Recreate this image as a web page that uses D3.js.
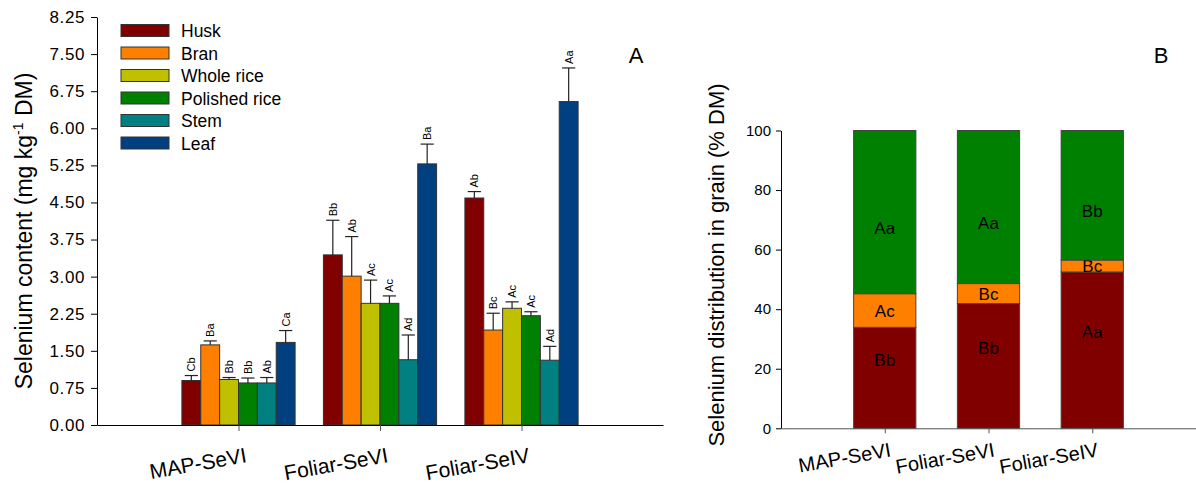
<!DOCTYPE html>
<html>
<head>
<meta charset="utf-8">
<script src="https://cdn.jsdelivr.net/npm/d3@7"></script>
<style>
  html, body { margin: 0; padding: 0; background: #fff; }
  svg { display: block; font-family: Arial, "Liberation Sans", sans-serif; }
</style>
</head>
<body>
<svg id="chart" width="1196" height="488"></svg>
<script>
// ---- Panel A: selenium content per plant part ----
const categories = ["MAP-SeVI", "Foliar-SeVI", "Foliar-SeIV"];
const parts = ["Husk", "Bran", "Whole rice", "Polished rice", "Stem", "Leaf"];
const partColors = ["#800000", "#ff8000", "#c0c000", "#008000", "#008080", "#004080"];

const husk = [0.90, 3.44, 4.59];
const huskErr = [0.10, 0.70, 0.13];
const huskSig = ["Cb", "Bb", "Ab"];

const bran = [1.62, 3.01, 1.92];
const branErr = [0.08, 0.80, 0.34];
const branSig = ["Ba", "Ab", "Bc"];

const wholeRice = [0.92, 2.46, 2.36];
const wholeRiceErr = [0.04, 0.47, 0.13];
const wholeRiceSig = ["Bb", "Ac", "Ac"];

const polishedRice = [0.85, 2.46, 2.21];
const polishedRiceErr = [0.10, 0.15, 0.08];
const polishedRiceSig = ["Bb", "Ac", "Ac"];

const stem = [0.85, 1.32, 1.31];
const stemErr = [0.11, 0.50, 0.28];
const stemSig = ["Ab", "Ad", "Ad"];

const leaf = [1.67, 5.28, 6.54];
const leafErr = [0.24, 0.40, 0.68];
const leafSig = ["Ca", "Ba", "Aa"];

const contentTicks = ["0.00", "0.75", "1.50", "2.25", "3.00", "3.75", "4.50", "5.25", "6.00", "6.75", "7.50", "8.25"];

// ---- Panel B: share of grain selenium ----
const grainParts = ["Husk", "Bran", "Polished rice"];
const grainColors = ["#800000", "#ff8000", "#008000"];
const huskPct = [33.9, 41.9, 52.5];
const huskPctSig = ["Bb", "Bb", "Aa"];
const branPct = [11.3, 6.7, 4.0];
const branPctSig = ["Ac", "Bc", "Bc"];
const polishedPct = [54.8, 51.4, 43.5];
const polishedPctSig = ["Aa", "Aa", "Bb"];
const pctTicks = [0, 20, 40, 60, 80, 100];

const seriesA = [
  { v: husk, e: huskErr, s: huskSig },
  { v: bran, e: branErr, s: branSig },
  { v: wholeRice, e: wholeRiceErr, s: wholeRiceSig },
  { v: polishedRice, e: polishedRiceErr, s: polishedRiceSig },
  { v: stem, e: stemErr, s: stemSig },
  { v: leaf, e: leafErr, s: leafSig }
];
const seriesB = [
  { v: huskPct, s: huskPctSig },
  { v: branPct, s: branPctSig },
  { v: polishedPct, s: polishedPctSig }
];

const svg = d3.select("#chart");
const FONT = 'Arial, "Liberation Sans", sans-serif';

// ================= Panel A =================
const xA = d3.scaleLinear().domain([0, 4]).range([97, 663]);
const yA = d3.scaleLinear().domain([0, 8.25]).range([425, 17]);
const groupW = 0.8;
const barW = groupW / parts.length;

const gA = svg.append("g");

// bars with error bars and significance letters
seriesA.forEach((ser, si) => {
  const g = gA.append("g");
  categories.forEach((c, ci) => {
    const x0 = ci + 1 - groupW / 2 + si * barW;
    const xl = xA(x0), xr = xA(x0 + barW);
    const xc = (xl + xr) / 2;
    g.append("rect")
      .attr("x", xl).attr("width", xr - xl)
      .attr("y", yA(ser.v[ci])).attr("height", yA(0) - yA(ser.v[ci]))
      .attr("fill", partColors[si])
      .attr("stroke", "#333").attr("stroke-width", 1);
    const top = yA(ser.v[ci] + ser.e[ci]);
    const halfCap = (xr - xl) * 0.35;
    g.append("line")
      .attr("x1", xc).attr("x2", xc)
      .attr("y1", yA(ser.v[ci])).attr("y2", top)
      .attr("stroke", "#222").attr("stroke-width", 1.2);
    g.append("line")
      .attr("x1", xc - halfCap).attr("x2", xc + halfCap)
      .attr("y1", top).attr("y2", top)
      .attr("stroke", "#222").attr("stroke-width", 1.2);
    g.append("text")
      .attr("transform", `translate(${xc + 4},${top - 4}) rotate(-90)`)
      .attr("font-size", 11).attr("fill", "#000")
      .text(ser.s[ci]);
  });
});

// y axis
const axisAY = d3.axisLeft(yA)
  .tickValues(contentTicks.map(Number))
  .tickFormat((d, i) => contentTicks[i])
  .tickSize(6).tickSizeOuter(0);
const gAy = gA.append("g").attr("transform", "translate(97,0)").call(axisAY);
gAy.select(".domain").attr("stroke", "#000");
gAy.selectAll(".tick line").attr("stroke", "#000");
gAy.selectAll(".tick text").attr("font-size", 17).attr("font-family", FONT).attr("fill", "#000")
  .attr("x", -12).attr("letter-spacing", 0.6);

// x axis
const axisAX = d3.axisBottom(xA).tickValues([1, 2, 3]).tickFormat("").tickSize(6).tickSizeOuter(0);
const gAx = gA.append("g").attr("transform", `translate(0,${yA(0)})`).call(axisAX);
gAx.select(".domain").attr("stroke", "#000");
gAx.selectAll(".tick line").attr("stroke", "#555");
categories.forEach((c, ci) => {
  gA.append("text")
    .attr("transform", `translate(${xA(ci + 1) + 9},${yA(0) + 37}) rotate(-10)`)
    .attr("text-anchor", "end").attr("font-size", 21).attr("fill", "#000")
    .text(c);
});

// y title with superscript
const tA = gA.append("text")
  .attr("transform", `translate(32,${(yA(0) + yA(8.25)) / 2 + 10}) rotate(-90)`)
  .attr("text-anchor", "middle").attr("font-size", 23).attr("fill", "#000");
tA.append("tspan").text("Selenium content (mg kg");
tA.append("tspan").attr("dy", -9).attr("font-size", 14).text("-1");
tA.append("tspan").attr("dy", 9).text(" DM)");

// panel letter
gA.append("text").attr("x", 636).attr("y", 63).attr("text-anchor", "middle")
  .attr("font-size", 22).text("A");

// legend
const leg = gA.append("g");
parts.forEach((p, i) => {
  const cy = 30.5 + i * 22.5;
  leg.append("rect").attr("x", 121).attr("y", cy - 6).attr("width", 48).attr("height", 12)
    .attr("fill", partColors[i]).attr("stroke", "#333").attr("stroke-width", 1);
  leg.append("text").attr("x", 181).attr("y", cy + 6.5).attr("font-size", 17.5).attr("fill", "#000").text(p);
});

// ================= Panel B =================
const xB = d3.scaleLinear().domain([0, 4]).range([781, 1196]);
const yB = d3.scaleLinear().domain([0, 100]).range([428.3, 130.5]);
const barWB = 0.6;
const gB = svg.append("g");

const stack = d3.stack().keys([0, 1, 2]).value((d, k) => seriesB[k].v[d])(categories.map((c, i) => i));
const labelShift = [-13, 5, 21];
stack.forEach((layer, k) => {
  layer.forEach((seg, ci) => {
    const xl = xB(ci + 1 - barWB / 2), xr = xB(ci + 1 + barWB / 2);
    gB.append("rect")
      .attr("x", xl).attr("width", xr - xl)
      .attr("y", yB(seg[1])).attr("height", yB(seg[0]) - yB(seg[1]))
      .attr("fill", grainColors[k]).attr("stroke", "#444").attr("stroke-width", 1);
    gB.append("text")
      .attr("x", (xl + xr) / 2)
      .attr("y", (yB(seg[0]) + yB(seg[1])) / 2 + labelShift[k] + 1)
      .attr("text-anchor", "middle").attr("font-size", 17).attr("fill", "#000")
      .text(seriesB[k].s[ci]);
  });
});

const axisBY = d3.axisLeft(yB).tickValues(pctTicks).tickFormat(d3.format("d")).tickSize(5).tickSizeOuter(0);
const gBy = gB.append("g").attr("transform", "translate(781,0)").call(axisBY);
gBy.select(".domain").attr("stroke", "#000");
gBy.selectAll(".tick line").attr("stroke", "#000");
gBy.selectAll(".tick text").attr("font-size", 15).attr("font-family", FONT).attr("fill", "#000").attr("x", -10);

const axisBX = d3.axisBottom(xB).tickValues([1, 2, 3]).tickFormat("").tickSize(5).tickSizeOuter(0);
const gBx = gB.append("g").attr("transform", `translate(0,${yB(0)})`).call(axisBX);
gBx.select(".domain").attr("stroke", "#555");
gBx.selectAll(".tick line").attr("stroke", "#555");
categories.forEach((c, ci) => {
  gB.append("text")
    .attr("transform", `translate(${xB(ci + 1) + 7},${yB(0) + 28}) rotate(-10)`)
    .attr("text-anchor", "end").attr("font-size", 20).attr("fill", "#000")
    .text(c);
});

gB.append("text")
  .attr("transform", `translate(724,265) rotate(-90)`)
  .attr("text-anchor", "middle").attr("font-size", 22).attr("fill", "#000")
  .text("Selenium distribution in grain (% DM)");

gB.append("text").attr("x", 1161).attr("y", 63).attr("text-anchor", "middle")
  .attr("font-size", 22).text("B");
</script>
</body>
</html>
